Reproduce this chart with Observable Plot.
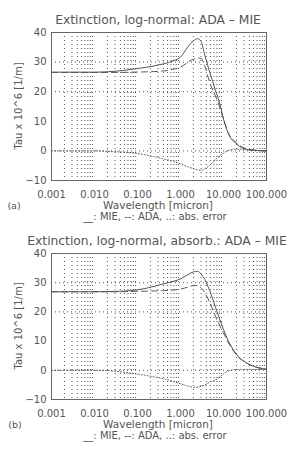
<!DOCTYPE html>
<html><head><meta charset="utf-8">
<script src="https://cdn.jsdelivr.net/npm/d3@7"></script>
<script src="https://cdn.jsdelivr.net/npm/@observablehq/plot@0.6"></script>
<style>
body{margin:0;background:#fff;}
#wrap{position:relative;width:300px;height:456px;background:#fff;font-family:"DejaVu Sans",sans-serif;color:#555;overflow:hidden;}
.t{position:absolute;white-space:nowrap;transform:translate(-50%,-50%);}
.panel{position:absolute;left:0;}
</style></head>
<body><div id="wrap">
<div class="t" style="left:158px;top:20px;font-size:12.3px;">Extinction, log-normal: ADA – MIE</div>
<div class="t" style="left:18px;top:106px;font-size:10px;transform:translate(-50%,-50%) rotate(-90deg);">Tau x 10^6 [1/m]</div>
<div class="t" style="left:14px;top:205px;font-size:9.5px;">(a)</div>
<div class="t" style="left:158px;top:205px;font-size:10.5px;">Wavelength [micron]</div>
<div class="t" style="left:155px;top:216px;font-size:10px;">__: MIE, --: ADA, ..: abs. error</div>
<div class="t" style="left:157px;top:241px;font-size:12.3px;">Extinction, log-normal, absorb.: ADA – MIE</div>
<div class="t" style="left:18px;top:326px;font-size:10px;transform:translate(-50%,-50%) rotate(-90deg);">Tau x 10^6 [1/m]</div>
<div class="t" style="left:15px;top:424px;font-size:9.5px;">(b)</div>
<div class="t" style="left:158px;top:424px;font-size:10.5px;">Wavelength [micron]</div>
<div class="t" style="left:155px;top:435px;font-size:10px;">__: MIE, --: ADA, ..: abs. error</div>
</div>
<script>
// wavelength grid (micron)
const wavelength = [0.001, 0.01, 0.03, 0.07, 0.15, 0.4, 0.7, 1.0, 1.5, 2.0, 2.5, 3.0, 3.7, 4.8, 6.5, 8.2, 10, 13, 20, 40, 100];
// panel (a)
const mieA = [26.6, 26.6, 26.9, 27.5, 28.2, 29.4, 30.5, 31.7, 35.2, 37.2, 37.9, 37.0, 32.2, 26.5, 20.5, 16.0, 10.8, 5.8, 2.4, 0.3, 0.0];
const adaA = [26.5, 26.5, 26.5, 26.6, 26.7, 27.0, 27.6, 28.3, 30.0, 31.0, 31.4, 31.2, 28.5, 23.0, 18.5, 14.8, 10.8, 6.0, 2.7, 0.5, 0.0];
const errA = [0.0, 0.0, -0.3, -0.6, -1.3, -2.7, -3.6, -4.4, -5.4, -6.0, -6.4, -6.6, -6.0, -4.9, -3.0, -1.6, -0.8, 0.2, 0.6, 0.3, 0.0];
// panel (b)
const mieB = [26.9, 26.9, 27.0, 27.3, 28.0, 29.6, 30.5, 31.3, 32.8, 33.7, 33.9, 33.0, 31.0, 27.2, 21.6, 17.4, 14.0, 10.0, 5.5, 2.0, 0.4];
const adaB = [26.9, 26.9, 26.9, 27.0, 27.1, 27.3, 27.5, 27.8, 28.5, 29.0, 29.0, 28.3, 26.5, 23.2, 18.5, 15.3, 12.8, 9.4, 5.3, 2.0, 0.4];
const errB = [0.0, 0.0, -0.3, -1.0, -1.7, -2.9, -3.8, -4.6, -5.4, -5.8, -5.8, -5.5, -5.0, -4.0, -3.3, -2.2, -1.2, -0.2, 0.3, 0.3, 0.3];
// ticks and grid
const xTicks = [0.001, 0.01, 0.1, 1, 10, 100];
const xTickLabels = ["0.001", "0.010", "0.100", "1.000", "10.000", "100.000"];
const yTicks = [-10, 0, 10, 20, 30, 40];
const gridX = [0.002,0.003,0.004,0.005,0.006,0.007,0.008,0.009,
  0.02,0.03,0.04,0.05,0.06,0.07,0.08,0.09,
  0.2,0.3,0.4,0.5,0.6,0.7,0.8,0.9,
  2,3,4,5,6,7,8,9,
  20,30,40,50,60,70,80,90];
const gridY = [30, 20, 0];

function rows(vals){ return wavelength.map((w,i)=>({w, v: vals[i]})); }

function panel(mie, ada, err, mTop, mBottom, h){
  return Plot.plot({
    width: 300, height: h,
    marginLeft: 51, marginRight: 34, marginTop: mTop, marginBottom: mBottom,
    style: {fontFamily: "DejaVu Sans, sans-serif", fontSize: "10px", color: "#555", background: "transparent"},
    x: {type: "log", domain: [0.001, 100], ticks: xTicks, tickFormat: d => xTickLabels[xTicks.indexOf(d)] ?? "", tickSize: 0, tickPadding: 10, label: null},
    y: {domain: [-10, 40], ticks: yTicks, tickSize: 0, tickPadding: 5, label: null},
    marks: [
      Plot.ruleX(gridX, {stroke: "#555", strokeDasharray: "1,3", strokeWidth: 1}),
      Plot.ruleY(gridY, {stroke: "#555", strokeDasharray: "1,3", strokeWidth: 1}),
      Plot.frame({stroke: "#666"}),
      Plot.line(rows(mie), {x: "w", y: "v", stroke: "#555", strokeWidth: 1, curve: "monotone-x"}),
      Plot.line(rows(ada), {x: "w", y: "v", stroke: "#555", strokeWidth: 1, strokeDasharray: "6,4", curve: "monotone-x"}),
      Plot.line(rows(err), {x: "w", y: "v", stroke: "#555", strokeWidth: 1, strokeDasharray: "1,2", curve: "monotone-x"})
    ]
  });
}

const wrap = document.getElementById("wrap");
const pa = panel(mieA, adaA, errA, 32, 46, 226);
pa.classList.add("panel"); pa.style.top = "0px";
wrap.appendChild(pa);
const pb = panel(mieB, adaB, errB, 27, 57, 230);
pb.classList.add("panel"); pb.style.top = "226px";
wrap.appendChild(pb);
</script>
</body></html>
